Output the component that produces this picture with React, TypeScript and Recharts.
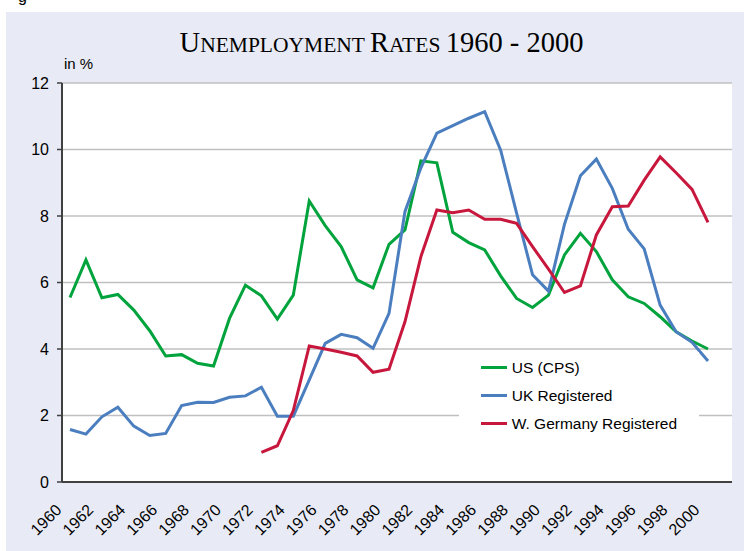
import React from "react";
import { LineChart, Line, XAxis, YAxis, CartesianGrid, Legend } from "recharts";

const years = [
  1960, 1961, 1962, 1963, 1964, 1965, 1966, 1967, 1968, 1969,
  1970, 1971, 1972, 1973, 1974, 1975, 1976, 1977, 1978, 1979,
  1980, 1981, 1982, 1983, 1984, 1985, 1986, 1987, 1988, 1989,
  1990, 1991, 1992, 1993, 1994, 1995, 1996, 1997, 1998, 1999, 2000,
];

const usCps = [
  5.55, 6.68, 5.54, 5.64, 5.17, 4.55, 3.79, 3.83, 3.57, 3.49,
  4.92, 5.92, 5.6, 4.9, 5.62, 8.45, 7.71, 7.08, 6.08, 5.84,
  7.15, 7.58, 9.66, 9.6, 7.51, 7.2, 6.98, 6.2, 5.52, 5.25,
  5.62, 6.83, 7.48, 6.93, 6.08, 5.57, 5.37, 4.97, 4.52, 4.24, 4.0,
];

const ukRegistered = [
  1.58, 1.44, 1.96, 2.25, 1.68, 1.4, 1.46, 2.3, 2.4, 2.39,
  2.55, 2.59, 2.85, 1.98, 1.98, 3.07, 4.17, 4.44, 4.34, 4.02,
  5.07, 8.13, 9.45, 10.49, 10.72, 10.94, 11.14, 9.98, 8.09, 6.23,
  5.74, 7.75, 9.21, 9.71, 8.83, 7.6, 7.01, 5.32, 4.52, 4.2, 3.64,
];

const wGermanyRegistered = [
  null, null, null, null, null, null, null, null, null, null,
  null, null, 0.89, 1.09, 2.15, 4.09, 4.0, 3.9, 3.79, 3.3,
  3.39, 4.82, 6.78, 8.18, 8.1, 8.18, 7.9, 7.9, 7.78, 7.08,
  6.4, 5.7, 5.9, 7.43, 8.28, 8.3, 9.08, 9.78, 9.3, 8.8, 7.81,
];

const yTicks = [0, 2, 4, 6, 8, 10, 12];

const series = [
  { key: "us", name: "US (CPS)", color: "#00A33C" },
  { key: "uk", name: "UK Registered", color: "#4A7EBF" },
  { key: "de", name: "W. Germany Registered", color: "#C8173C" },
];

const data = years.map((y, i) => ({
  year: String(y),
  us: usCps[i],
  uk: ukRegistered[i],
  de: wGermanyRegistered[i],
}));

const SANS = "Arial, 'Liberation Sans', sans-serif";
const SERIF = "'Times New Roman', 'Liberation Serif', serif";

const XTick = (props: any) => {
  const { x, y, payload } = props;
  const px = x - 7.5;
  const py = y + 29;
  return (
    <text
      x={px}
      y={py}
      transform={`rotate(-45, ${px}, ${py})`}
      textAnchor="end"
      fontSize={16}
      fontFamily={SANS}
      fill="#000"
    >
      {payload.value}
    </text>
  );
};

const LegendBox = () => (
  <div
    style={{
      position: "relative",
      width: 240,
      height: 95,
      background: "#fff",
    }}
  >
    {series.map((s, i) => (
      <div key={s.key}>
        <div
          style={{
            position: "absolute",
            left: 22,
            top: 14.2 + i * 28,
            width: 26,
            height: 3,
            background: s.color,
          }}
        />
        <div
          style={{
            position: "absolute",
            left: 52.7,
            top: 15.7 + i * 28 - 10,
            height: 20,
            lineHeight: "20px",
            fontSize: 15.5,
            fontFamily: SANS,
            color: "#000",
            whiteSpace: "nowrap",
          }}
        >
          {s.name}
        </div>
      </div>
    ))}
  </div>
);

export default function App() {
  return (
    <div style={{ position: "absolute", left: 0, top: 0, width: 744, height: 551, background: "#fff", overflow: "hidden" }}>
      <div style={{ position: "absolute", left: 6, top: 12, width: 738, height: 539, background: "#E8EBF5" }} />
      <div style={{ position: "absolute", left: 0, top: 0 }}>
        <LineChart width={744} height={551} data={data} margin={{ top: 83, right: 12, bottom: 0, left: 0 }}>
          <CartesianGrid vertical={false} stroke="#C0C0C0" strokeWidth={1.5} fill="#fff" />
          <XAxis
            dataKey="year"
            interval={1}
            height={69}
            padding={{ left: 8, right: 24 }}
            tickLine={false}
            tickSize={0}
            tickMargin={0}
            axisLine={{ stroke: "#404040", strokeWidth: 2 }}
            tick={<XTick />}
          />
          <XAxis
            xAxisId="top"
            orientation="top"
            dataKey="year"
            height={0}
            tick={false}
            tickLine={false}
            axisLine={{ stroke: "#505050", strokeWidth: 1.5 }}
          />
          <YAxis
            domain={[0, 12]}
            ticks={yTicks}
            width={62}
            tickSize={5}
            tickMargin={8}
            tickLine={{ stroke: "#404040", strokeWidth: 1.5 }}
            axisLine={{ stroke: "#404040", strokeWidth: 2 }}
            tick={{ fontSize: 16, fontFamily: SANS, fill: "#000" }}
          />
          <YAxis
            yAxisId="right"
            orientation="right"
            domain={[0, 12]}
            width={0}
            tick={false}
            tickLine={false}
            axisLine={{ stroke: "#505050", strokeWidth: 1.5 }}
          />
          {series.map((s) => (
            <Line
              key={s.key}
              type="linear"
              dataKey={s.key}
              name={s.name}
              stroke={s.color}
              strokeWidth={3}
              dot={false}
              activeDot={false}
              connectNulls={false}
              isAnimationActive={false}
            />
          ))}
          <Legend
            layout="horizontal"
            align="center"
            verticalAlign="middle"
            content={<LegendBox />}
            wrapperStyle={{ left: 459, top: 352, width: 240, height: 95 }}
          />
        </LineChart>
      </div>
      <svg width={744} height={551} style={{ position: "absolute", left: 0, top: 0, pointerEvents: "none" }}>
        <text x={18} y={2} fontSize={16} fontFamily={SANS} fill="#000">g</text>
        <text x={381.5} y={51.5} textAnchor="middle" fontFamily={SERIF} fill="#000">
          <tspan fontSize={28.5}>U</tspan>
          <tspan fontSize={21.5}>NEMPLOYMENT </tspan>
          <tspan fontSize={28.5}>R</tspan>
          <tspan fontSize={21.5}>ATES </tspan>
          <tspan fontSize={28.5}>1960 - 2000</tspan>
        </text>
        <text x={64} y={69} fontSize={15} fontFamily={SANS} fill="#000">in %</text>
      </svg>
    </div>
  );
}
